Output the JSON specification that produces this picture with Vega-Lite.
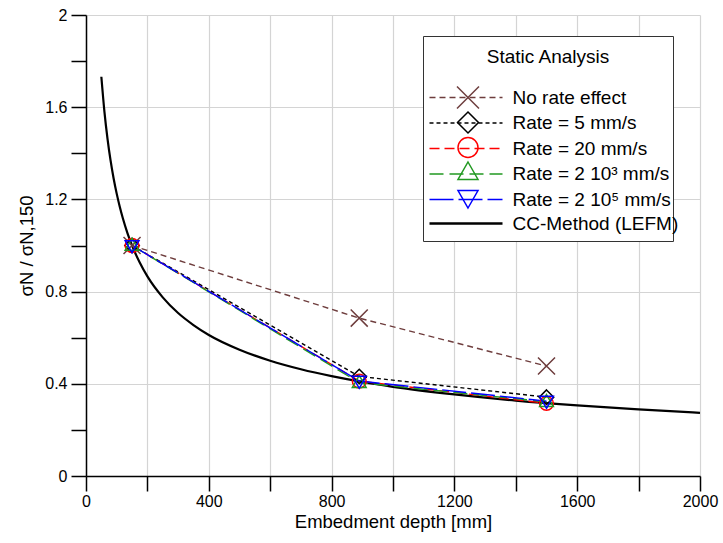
{
  "$schema": "https://vega.github.io/schema/vega-lite/v6.json",
  "width": 614,
  "height": 461,
  "autosize": "none",
  "padding": {"left": 86, "top": 15, "right": 23, "bottom": 67},
  "background": "white",
  "config": {
    "font": "Liberation Sans",
    "view": {"stroke": null},
    "axis": {
      "labelFont": "Liberation Sans",
      "titleFont": "Liberation Sans",
      "labelFontSize": 16,
      "titleFontSize": 18.5,
      "titleFontWeight": "normal",
      "labelColor": "black",
      "titleColor": "black",
      "domainColor": "black",
      "domainWidth": 1.5,
      "tickColor": "black",
      "tickWidth": 1.5,
      "tickSize": 15,
      "gridColor": "#d4d4d4",
      "gridWidth": 1.2
    }
  },
  "datasets": {
    "pts": [
      {"series": "No rate effect", "mk": "X", "x": 150, "y": 1.0},
      {"series": "No rate effect", "mk": "X", "x": 890, "y": 0.685},
      {"series": "No rate effect", "mk": "X", "x": 1500, "y": 0.477},
      {"series": "Rate = 5 mm/s", "mk": "D", "x": 150, "y": 1.0},
      {"series": "Rate = 5 mm/s", "mk": "D", "x": 890, "y": 0.432},
      {"series": "Rate = 5 mm/s", "mk": "D", "x": 1500, "y": 0.342},
      {"series": "Rate = 20 mm/s", "mk": "O", "x": 150, "y": 1.0},
      {"series": "Rate = 20 mm/s", "mk": "O", "x": 890, "y": 0.412},
      {"series": "Rate = 20 mm/s", "mk": "O", "x": 1500, "y": 0.315},
      {"series": "Rate = 2 10³ mm/s", "mk": "T", "x": 150, "y": 1.0},
      {"series": "Rate = 2 10³ mm/s", "mk": "T", "x": 890, "y": 0.405},
      {"series": "Rate = 2 10³ mm/s", "mk": "T", "x": 1500, "y": 0.322},
      {"series": "Rate = 2 10⁵ mm/s", "mk": "V", "x": 150, "y": 1.0},
      {"series": "Rate = 2 10⁵ mm/s", "mk": "V", "x": 890, "y": 0.412},
      {"series": "Rate = 2 10⁵ mm/s", "mk": "V", "x": 1500, "y": 0.325}
    ],
    "cc": [
      {"x": 50, "y": 1.732}, {"x": 60, "y": 1.581}, {"x": 70, "y": 1.464},
      {"x": 80, "y": 1.369}, {"x": 90, "y": 1.291}, {"x": 100, "y": 1.225},
      {"x": 110, "y": 1.168}, {"x": 120, "y": 1.118}, {"x": 135, "y": 1.054},
      {"x": 150, "y": 1.0}, {"x": 175, "y": 0.926}, {"x": 200, "y": 0.866},
      {"x": 250, "y": 0.775}, {"x": 300, "y": 0.707}, {"x": 350, "y": 0.655},
      {"x": 400, "y": 0.612}, {"x": 500, "y": 0.548}, {"x": 600, "y": 0.5},
      {"x": 700, "y": 0.463}, {"x": 800, "y": 0.433}, {"x": 900, "y": 0.408},
      {"x": 1000, "y": 0.387}, {"x": 1200, "y": 0.354}, {"x": 1400, "y": 0.327},
      {"x": 1600, "y": 0.306}, {"x": 1800, "y": 0.289}, {"x": 2000, "y": 0.274}
    ]
  },
  "resolve": {
    "scale": {"color": "independent", "strokeDash": "independent", "shape": "independent"},
    "legend": {"color": "independent", "strokeDash": "independent", "shape": "independent"}
  },
  "layer": [
    {
      "data": {"name": "cc"},
      "mark": {"type": "line", "color": "black", "strokeWidth": 2.2, "interpolate": "monotone"},
      "encoding": {
        "x": {
          "field": "x", "type": "quantitative",
          "scale": {"domain": [0, 2000], "nice": false},
          "axis": {
            "title": "Embedment depth [mm]",
            "values": [0, 200, 400, 600, 800, 1000, 1200, 1400, 1600, 1800, 2000],
            "labelExpr": "datum.value % 400 == 0 ? datum.label : ''",
            "format": "d",
            "grid": true,
            "labelPadding": 2,
            "titlePadding": 3,
            "labelFlush": false
          }
        },
        "y": {
          "field": "y", "type": "quantitative",
          "scale": {"domain": [0, 2], "nice": false},
          "axis": {
            "title": "σN / σN,150",
            "values": [0, 0.2, 0.4, 0.6, 0.8, 1.0, 1.2, 1.4, 1.6, 1.8, 2.0],
            "format": ".1~f",
            "labelExpr": "round(datum.value * 10) % 4 == 0 ? datum.label : ''",
            "grid": true,
            "gridOpacity": {"condition": {"test": "round(datum.value * 10) % 4 == 0", "value": 1}, "value": 0},
            "labelPadding": 4,
            "titlePadding": 8,
            "labelFlush": false
          }
        }
      }
    },
    {
      "data": {"name": "pts"},
      "mark": {"type": "line", "strokeWidth": 1.4},
      "encoding": {
        "x": {"field": "x", "type": "quantitative"},
        "y": {"field": "y", "type": "quantitative"},
        "color": {
          "field": "series", "type": "nominal",
          "scale": {
            "domain": ["No rate effect", "Rate = 5 mm/s", "Rate = 20 mm/s", "Rate = 2 10³ mm/s", "Rate = 2 10⁵ mm/s", "CC-Method (LEFM)"],
            "range": ["#6e3d3d", "#000000", "#ff0000", "#229922", "#0000ff", "#000000"]
          },
          "legend": {
            "orient": "none",
            "legendX": 337,
            "legendY": 22,
            "zindex": 2,
            "title": "Static Analysis",
            "titleFont": "Liberation Sans",
            "titleFontSize": 19,
            "titleFontWeight": "normal",
            "titleColor": "transparent",
            "titleAnchor": "middle",
            "titlePadding": 22,
            "labelFont": "Liberation Sans",
            "labelFontSize": 19,
            "labelColor": "black",
            "labelLimit": 400,
            "labelOffset": 37,
            "symbolType": "M-3.65,0H3.65M0,-1.1M0,1.1",
            "symbolSize": 400,
            "symbolOffset": 23.5,
            "symbolStrokeWidth": 1.5,
            "rowPadding": -3.5,
            "padding": 10,
            "encode": {
              "symbols": {"update": {
                "strokeWidth": {"signal": "datum.value == 'CC-Method (LEFM)' ? 2.6 : 1.5"},
                "strokeJoin": {"signal": "datum.value == 'CC-Method (LEFM)' ? 'round' : 'miter'"}
              }}
            }
          }
        },
        "strokeDash": {
          "field": "series", "type": "nominal",
          "scale": {
            "domain": ["No rate effect", "Rate = 5 mm/s", "Rate = 20 mm/s", "Rate = 2 10³ mm/s", "Rate = 2 10⁵ mm/s", "CC-Method (LEFM)"],
            "range": [[6, 4], [4, 3], [10, 5], [14, 6], [24, 5], [1, 0]]
          }
        }
      }
    },
    {
      "data": {"name": "pts"},
      "layer": [
        {
          "transform": [{"filter": "datum.mk == 'X'"}],
          "mark": {"type": "point", "filled": false, "strokeWidth": 1.5, "opacity": 1, "size": 240},
          "encoding": {
            "x": {"field": "x", "type": "quantitative"},
            "y": {"field": "y", "type": "quantitative"},
            "color": {
              "field": "mk", "type": "nominal",
              "scale": {
                "domain": ["X", "D", "O", "T", "V", "N"],
                "range": ["#6e3d3d", "#000000", "#ff0000", "#229922", "#0000ff", "transparent"]
              },
              "legend": {
                "orient": "none",
                "legendX": 337,
                "legendY": 21,
                "zindex": 1,
                "title": "Static Analysis",
                "titleFont": "Liberation Sans",
                "titleFontSize": 19,
                "titleFontWeight": "normal",
                "titleColor": "black",
                "titleAnchor": "middle",
                "titleBaseline": "line-top",
                "titleLineHeight": 34,
                "titlePadding": 27.5,
                "labelFont": "Liberation Sans",
                "labelFontSize": 19,
                "labelColor": "transparent",
                "labelExpr": "'Rate = 2 10⁵ mm/s'",
                "labelLimit": 400,
                "labelOffset": 31,
                "symbolSize": 400,
                "symbolOffset": 30,
                "symbolStrokeWidth": 1.5,
                "symbolFillColor": "transparent",
                "rowPadding": -3.5,
                "padding": 4,
                "strokeColor": "#333333",
                "fillColor": "white"
              }
            },
            "shape": {
              "field": "mk", "type": "nominal",
              "scale": {
                "domain": ["X", "D", "O", "T", "V", "N"],
                "range": [
                  "M-1.1,-1.1L1.1,1.1M-1.1,1.1L1.1,-1.1",
                  "M0,-1.05L1.05,0L0,1.05L-1.05,0ZM0,-1.1M0,1.1",
                  "M-1,0A1,1,0,1,0,1,0A1,1,0,1,0,-1,0ZM0,-1.1M0,1.1",
                  "M0,-1.05L1,0.7L-1,0.7ZM0,-1.1M0,1.1",
                  "M0,1.05L1,-0.7L-1,-0.7ZM0,-1.1M0,1.1",
                  "M0,-1.1M0,1.1"
                ]
              }
            }
          }
        },
        {
          "transform": [{"filter": "datum.mk != 'X'"}],
          "mark": {"type": "point", "filled": false, "strokeWidth": 1.5, "opacity": 1, "size": 190},
          "encoding": {
            "x": {"field": "x", "type": "quantitative"},
            "y": {"field": "y", "type": "quantitative"},
            "color": {"field": "mk", "type": "nominal"},
            "shape": {"field": "mk", "type": "nominal"}
          }
        }
      ]
    }
  ]
}
